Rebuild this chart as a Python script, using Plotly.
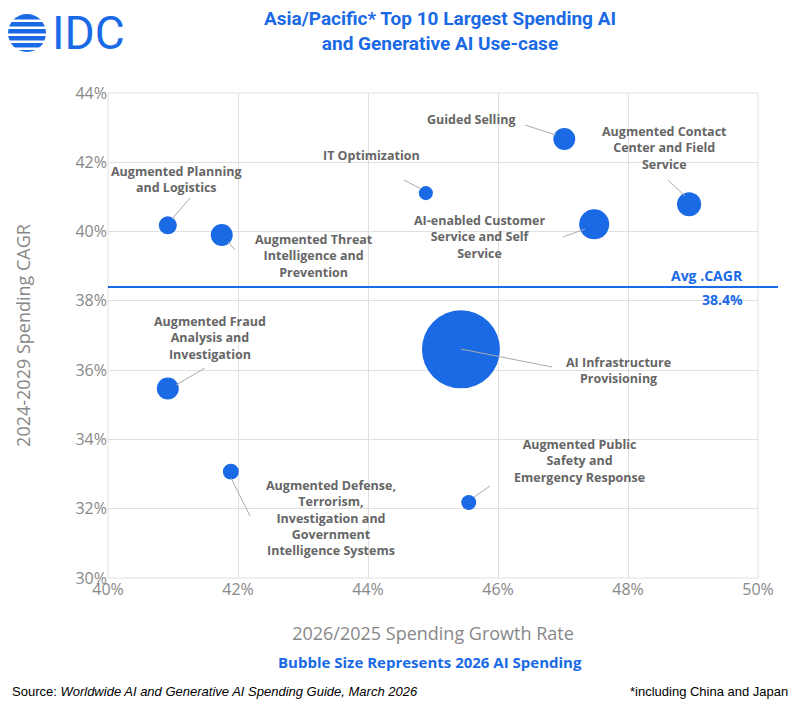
import plotly.graph_objects as go

use_cases = ["Guided Selling", "Augmented Contact Center and Field Service", "IT Optimization",
             "AI-enabled Customer Service and Self Service", "Augmented Planning and Logistics",
             "Augmented Threat Intelligence and Prevention", "Augmented Fraud Analysis and Investigation",
             "AI Infrastructure Provisioning", "Augmented Defense, Terrorism, Investigation and Government Intelligence Systems",
             "Augmented Public Safety and Emergency Response"]
growth = [47.02, 48.94, 44.89, 47.48, 40.92, 41.75, 40.92, 45.43, 41.89, 45.55]
cagr = [42.67, 40.79, 41.11, 40.21, 40.18, 39.90, 35.47, 36.60, 33.07, 32.18]
spending = [0.95, 1.14, 0.39, 1.78, 0.64, 0.95, 0.95, 12.0, 0.50, 0.44]
avg_cagr = 38.4

labels = ["Guided Selling", "Augmented Contact<br>Center and Field<br>Service", "IT Optimization",
          "AI-enabled Customer<br>Service and Self<br>Service", "Augmented Planning<br>and Logistics",
          "Augmented Threat<br>Intelligence and<br>Prevention", "Augmented Fraud<br>Analysis and<br>Investigation",
          "AI Infrastructure<br>Provisioning", "Augmented Defense,<br>Terrorism,<br>Investigation and<br>Government<br>Intelligence Systems",
          "Augmented Public<br>Safety and<br>Emergency Response"]
lab_px = [(471,119,525,125,556,135),(664,148,668,180,685,196),(371,155,404,180,421,189),
          (479,237,563,237,585,229),(176,179,190,198,172,219),(314,256,235,250,228,242),
          (210,338,205,368,176,385),(618,370,552,367,461,349),(331,518,250,516,231,478),
          (579,461,490,486,474,497)]

def dx(px): return (px-108)/65+40
def dy(py): return 44-(py-93)/34.64
def px_x(p): return (p-108)/650
def px_y(p): return (578-p)/485

BLUE = "#1a6ae6"
GRAY = "#666666"
fig = go.Figure(go.Scatter(x=growth, y=cagr, mode="markers", text=use_cases,
    marker=dict(size=spending, sizemode="area", sizeref=2*max(spending)/(78**2), color=BLUE,
                line=dict(width=0), opacity=1)))

shapes = [dict(type="line", xref="paper", yref="y", x0=0, x1=670/650, y0=avg_cagr, y1=avg_cagr,
               line=dict(color=BLUE, width=2))]
ann = []
for lab, (tx, ty, x0, y0, x1, y1) in zip(labels, lab_px):
    shapes.append(dict(type="line", x0=dx(x0), y0=dy(y0), x1=dx(x1), y1=dy(y1),
                       line=dict(color="#aaaaaa", width=1)))
    ann.append(dict(x=dx(tx), y=dy(ty), text=f"<b>{lab}</b>", showarrow=False,
                    font=dict(family="Open Sans", size=12.5, color=GRAY)))
ann += [
    dict(xref="paper", yref="y", x=px_x(745), y=avg_cagr, yshift=12, text="<b>Avg .CAGR</b>", showarrow=False,
         font=dict(family="Open Sans", size=14, color=BLUE)),
    dict(xref="paper", yref="y", x=px_x(745), y=avg_cagr, yshift=-12, text="<b>38.4%</b>", showarrow=False,
         font=dict(family="Open Sans", size=14, color=BLUE)),
    dict(xref="paper", yref="paper", x=px_x(440), y=px_y(31), yanchor="middle", text="<b>Asia/Pacific* Top 10 Largest Spending AI<br>and Generative AI Use-case</b>",
         showarrow=False, font=dict(family="Roboto", size=19, color=BLUE)),
    dict(xref="paper", yref="paper", x=px_x(430), y=px_y(662), yanchor="middle", text="<b>Bubble Size Represents 2026 AI Spending</b>",
         showarrow=False, font=dict(family="Open Sans", size=15, color=BLUE)),
    dict(xref="paper", yref="paper", x=px_x(10), y=px_y(691), xanchor="left", yanchor="middle",
         text="Source: <i>Worldwide AI and Generative AI Spending Guide, March 2026</i>",
         showarrow=False, font=dict(family="Liberation Sans", size=13, color="black")),
    dict(xref="paper", yref="paper", x=px_x(790), y=px_y(691), xanchor="right", yanchor="middle",
         text="*including China and Japan", showarrow=False, font=dict(family="Liberation Sans", size=13, color="black")),
    dict(xref="paper", yref="paper", x=px_x(50), y=px_y(33), xanchor="left", yanchor="middle",
         text="IDC", showarrow=False, font=dict(family="Roboto", size=46, color=BLUE)),
]
shapes.append(dict(type="circle", xref="paper", yref="paper", x0=px_x(8), x1=px_x(46), y0=px_y(52), y1=px_y(14),
                   fillcolor=BLUE, line=dict(width=0)))
for py in [19.5, 26.5, 33.5, 40.5, 47.5]:
    shapes.append(dict(type="rect", xref="paper", yref="paper", x0=px_x(5), x1=px_x(49), y0=px_y(py+2.5), y1=px_y(py),
                       fillcolor="white", line=dict(width=0)))

OFF = 8
fig.update_layout(
    width=800-OFF*2, height=711-OFF*2, margin=dict(l=108-OFF, r=42-OFF, t=93-OFF, b=133-OFF),
    plot_bgcolor="white", paper_bgcolor="white", showlegend=False,
    shapes=shapes, annotations=ann,
    xaxis=dict(range=[40, 50], dtick=2, ticksuffix="%", showgrid=True, gridcolor="#e0e0e0",
               zeroline=False, showline=False, tickfont=dict(family="Open Sans", size=16, color="#888888"),
               title=dict(text="2026/2025 Spending Growth Rate", font=dict(family="Open Sans", size=18, color="#888888"), standoff=28)),
    yaxis=dict(range=[30, 44], dtick=2, ticksuffix="%", showgrid=True, gridcolor="#e0e0e0",
               zeroline=False, showline=False, tickfont=dict(family="Open Sans", size=16, color="#888888"),
               title=dict(text="2024-2029 Spending CAGR", font=dict(family="Open Sans", size=18, color="#888888"), standoff=40)),
)
fig.add_shape(type="rect", xref="paper", yref="paper", x0=0, x1=1, y0=0, y1=1, line=dict(color="#e0e0e0", width=1), layer="below")
fig.write_html("out.html")
